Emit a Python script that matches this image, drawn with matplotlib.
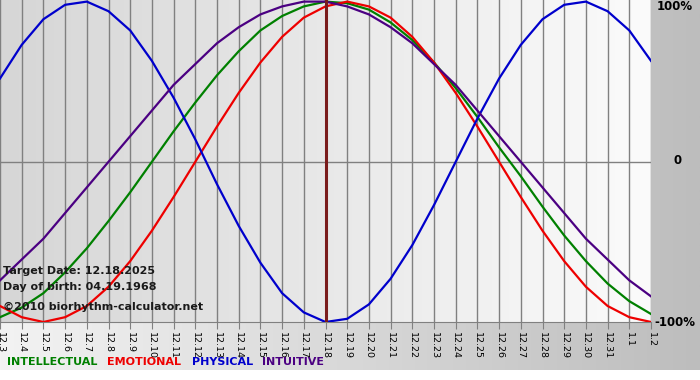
import numpy as np
import matplotlib.pyplot as plt
from matplotlib.colors import LinearSegmentedColormap

# days shown on the x axis (12.3 .. 1.2)
dates = ['12.3', '12.4', '12.5', '12.6', '12.7', '12.8', '12.9', '12.10', '12.11',
         '12.12', '12.13', '12.14', '12.15', '12.16', '12.17', '12.18', '12.19',
         '12.20', '12.21', '12.22', '12.23', '12.24', '12.25', '12.26', '12.27',
         '12.28', '12.29', '12.30', '12.31', '1.1', '1.2']
target_idx = 15

# cycle values per day (-1 .. 1)
intellectual = [-0.97, -0.91, -0.82, -0.69, -0.54, -0.37, -0.19, 0.00, 0.19, 0.37,
                0.54, 0.69, 0.82, 0.91, 0.97, 1.00, 0.99, 0.95, 0.87, 0.76,
                0.62, 0.46, 0.28, 0.09, -0.09, -0.28, -0.46, -0.62, -0.76, -0.87, -0.95]
emotional = [-0.90, -0.97, -1.00, -0.97, -0.90, -0.78, -0.62, -0.43, -0.22, 0.00,
             0.22, 0.43, 0.62, 0.78, 0.90, 0.97, 1.00, 0.97, 0.90, 0.78,
             0.62, 0.43, 0.22, 0.00, -0.22, -0.43, -0.62, -0.78, -0.90, -0.97, -1.00]
physical = [0.52, 0.73, 0.89, 0.98, 1.00, 0.94, 0.82, 0.63, 0.40, 0.14,
            -0.14, -0.40, -0.63, -0.82, -0.94, -1.00, -0.98, -0.89, -0.73, -0.52,
            -0.27, 0.00, 0.27, 0.52, 0.73, 0.89, 0.98, 1.00, 0.94, 0.82, 0.63]
intuitive = [-0.74, -0.61, -0.48, -0.32, -0.16, 0.00, 0.16, 0.32, 0.48, 0.61,
             0.74, 0.84, 0.92, 0.97, 1.00, 1.00, 0.97, 0.92, 0.84, 0.74,
             0.61, 0.48, 0.32, 0.16, 0.00, -0.16, -0.32, -0.48, -0.61, -0.74, -0.84]

series = [
    ("INTELLECTUAL", intellectual, '#008000'),
    ("EMOTIONAL", emotional, '#ee0000'),
    ("PHYSICAL", physical, '#0000cc'),
    ("INTUITIVE", intuitive, '#4b0082'),
]

W, H = 700, 380
fig = plt.figure(figsize=(W / 100, H / 100), dpi=100)
fig.patch.set_facecolor('white')

# grey gradient behind everything
bg = fig.add_axes([0, 10 / H, 1, 370 / H])
bg.axis('off')
bg_cmap = LinearSegmentedColormap.from_list('bg', ['#f3f3f3', '#bdbdbd'])
bg.imshow(np.linspace(0, 1, 256).reshape(1, -1), cmap=bg_cmap, aspect='auto',
          extent=[0, 1, 0, 1])

ax = fig.add_axes([0, 58 / H, 651 / W, 322 / H])
x = np.arange(len(dates))
plot_cmap = LinearSegmentedColormap.from_list('plot', ['#d6d6d6', '#fbfbfb'])
ax.imshow(np.linspace(0, 1, 256).reshape(1, -1), cmap=plot_cmap, aspect='auto',
          extent=[0, len(dates) - 1, -1, 1.01], zorder=0)

ax.set_xlim(0, len(dates) - 1)
ax.set_ylim(-1, 1.01)
ax.set_xticks(x)
ax.set_xticklabels(dates, rotation=-90, fontsize=6.8)
ax.set_yticks([])
ax.tick_params(axis='x', length=5, color='#808080', pad=2)
ax.grid(axis='x', color='#808080', lw=1)
ax.axhline(0, color='#808080', lw=1, zorder=1)
for s in ['top', 'left', 'right']:
    ax.spines[s].set_visible(False)
ax.spines['bottom'].set_color('#808080')

for name, vals, col in series:
    ax.plot(x, vals, color=col, lw=1.6, zorder=3)

ax.axvline(target_idx, color='#7a1c1c', lw=2.2, zorder=4)

# right side percent labels
fig.text(657 / W, 1 - 7 / H, '100%', fontsize=8.5, fontweight='bold', va='center')
fig.text(674 / W, 1 - 161 / H, '0', fontsize=8.5, fontweight='bold', va='center')
fig.text(654 / W, 1 - 322 / H, '-100%', fontsize=8.5, fontweight='bold', va='center')

info = ["Target Date: 12.18.2025", "Day of birth: 04.19.1968",
        "\u00a92010 biorhythm-calculator.net"]
for txt, yy in zip(info, [271, 287, 307]):
    fig.text(3 / W, 1 - yy / H, txt, fontsize=8, fontweight='bold',
             color='#1a1a1a', va='center', zorder=10)

# legend row
for (name, vals, col), xx in zip(series, [7, 107, 192, 262]):
    fig.text(xx / W, 1 - 362 / H, name, fontsize=8, fontweight='bold',
             color=col, va='center')

fig.savefig('out.png', dpi=100)
